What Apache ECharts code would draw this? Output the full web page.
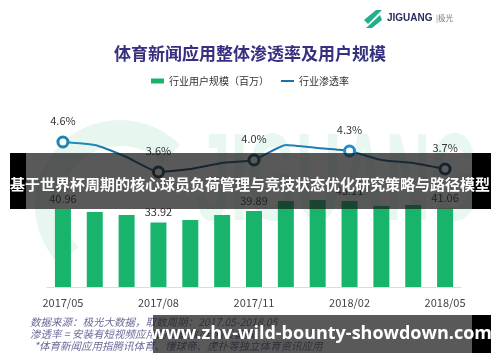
<!DOCTYPE html>
<html><head><meta charset="utf-8">
<script src="https://cdn.jsdelivr.net/npm/echarts@6/dist/echarts.min.js"></script>
<style>html,body{margin:0;padding:0;background:#fff}#c{width:500px;height:362px}</style>
</head><body><div id="c"></div>
<script>
var categories = ['2017/05','2017/06','2017/07','2017/08','2017/09','2017/10','2017/11','2017/12','2018/01','2018/02','2018/03','2018/04','2018/05'];
var userScale = [40.96, 39.4, 37.8, 33.92, 35.2, 37.8, 39.89, 45.1, 45.7, 45.11, 42.5, 43.0, 41.06];
var penetration = [4.6, 4.5, 4.1, 3.6, 3.7, 3.9, 4.0, 4.5, 4.4, 4.3, 4.0, 3.9, 3.7];
var labeledIdx = [0, 3, 6, 9, 12];
var markerColors = {0:'#1b87aa', 3:'#0f3a5e', 6:'#16466f', 9:'#1d8fd0', 12:'#123b60'};
var titleText = '体育新闻应用整体渗透率及用户规模';
var legendBar = '行业用户规模（百万）';
var legendLine = '行业渗透率';
var notes = ['数据来源：极光大数据，取数周期：2017.05-2018.05','渗透率 = 安装有短视频应用的设备数/全网设备数','*体育新闻应用指腾讯体育、懂球帝、虎扑等独立体育资讯应用'];
var bannerText = '基于世界杯周期的核心球员负荷管理与竞技状态优化研究策略与路径模型';
var urlText = 'www.zhv-wild-bounty-showdown.com';

var chart = echarts.init(document.getElementById('c'));
var font = '"Noto Sans CJK SC", "Noto Sans", sans-serif';

var barData = userScale.map(function(v,i){
  return {value:v, label:{show: labeledIdx.indexOf(i)>=0}};
});
var lineData = penetration.map(function(v,i){
  if (labeledIdx.indexOf(i)>=0) {
    return {value:v, symbol:'circle', symbolSize:10,
      itemStyle:{color:'#fff', borderColor:markerColors[i], borderWidth:3},
      label:{show:true}};
  }
  return {value:v, symbol:'none'};
});

var option = {
  backgroundColor:'#fff',
  textStyle:{fontFamily:font},
  title:{text:titleText, left:'center', top:40,
    textStyle:{fontSize:17, fontWeight:'bold', color:'#35307f', fontFamily:font}},
  legend:{top:71, left:'center', itemWidth:13, itemHeight:5, itemGap:12,
    textStyle:{fontSize:10, color:'#333', fontFamily:font},
    data:[{name:legendBar, icon:'rect'},{name:legendLine, icon:'path://M0,0h13v2h-13z', itemStyle:{color:'#1f6fa8'}}]},
  grid:{left:47, right:39, top:137, bottom:75},
  xAxis:{type:'category', data:categories, boundaryGap:true,
    axisLine:{lineStyle:{color:'#dcdcdc'}}, axisTick:{show:false},
    axisLabel:{interval:2, fontSize:11, color:'#444', margin:10, fontFamily:font}},
  yAxis:[
    {type:'value', min:0, max:78.74, show:false, splitLine:{show:false}},
    {type:'value', min:-0.233, max:4.767, show:false, splitLine:{show:false}}
  ],
  series:[
    {name:legendBar, type:'bar', barWidth:16, data:barData, z:2,
      itemStyle:{color:'#19b46c'},
      label:{position:'top', distance:5, fontSize:11, color:'#333', fontFamily:font,
        formatter:function(p){return p.value.toFixed(2);}}},
    {name:legendLine, type:'line', yAxisIndex:1, data:lineData, z:3,
      smooth:0.15, symbol:'none', showSymbol:true,
      lineStyle:{width:2, color:new echarts.graphic.LinearGradient(0,0,0,1,[{offset:0,color:'#2295cc'},{offset:1,color:'#0c2d52'}])},
      itemStyle:{color:'#1f6fa8'},
      label:{position:'top', distance:9, fontSize:11, color:'#333', fontFamily:font,
        formatter:function(p){return p.value.toFixed(1)+'%';}}}
  ],
  graphic:[
    {type:'text', left:196, top:124, z:-1, silent:true, scaleY:2.0,
      style:{text:'JIGUANG', fontSize:62, fontWeight:'bold', fontFamily:'"Liberation Sans", sans-serif', fill:'rgba(40,180,120,0.10)'}},
    {type:'arc', z:-1, silent:true, shape:{cx:120, cy:205, r:72, startAngle:Math.PI*0.75, endAngle:Math.PI*1.75},
      style:{stroke:'rgba(40,180,120,0.11)', lineWidth:26, fill:null}},
    {type:'polygon', shape:{points:[[364,20],[376,10],[382,10],[368,24]]}, style:{fill:'#22b08c'}},
    {type:'polygon', shape:{points:[[366,28],[380,15],[382,20],[372,28]]}, style:{fill:'#22b08c'}},
    {type:'text', left:387, top:13, style:{text:'JIGUANG', fontSize:10, fontWeight:'bold', fill:'#2a2c5e', fontFamily:'"Liberation Sans", sans-serif'}},
    {type:'text', left:436, top:14, style:{text:'|极光', fontSize:7.5, fill:'#777', fontFamily:font}},
    {type:'text', left:30, top:317, style:{text:notes[0], fontSize:10.5, fontStyle:'italic', fill:'#6a6a98', fontFamily:font}},
    {type:'text', left:30, top:329, style:{text:notes[1], fontSize:10.5, fontStyle:'italic', fill:'#6a6a98', fontFamily:font}},
    {type:'text', left:34, top:341, style:{text:notes[2], fontSize:10.5, fontStyle:'italic', fill:'#6a6a98', fontFamily:font}},
    {type:'rect', z:100, shape:{x:26, y:153, width:446, height:56}, style:{fill:'rgba(25,25,25,0.72)'}},
    {type:'rect', z:100, shape:{x:10, y:153, width:16, height:56}, style:{fill:'#000'}},
    {type:'rect', z:100, shape:{x:472, y:153, width:19, height:56}, style:{fill:'#000'}},
    {type:'text', z:101, x:250, y:184, style:{text:bannerText, fontSize:15, fontWeight:'bold', fill:'#fff', align:'center', verticalAlign:'middle', fontFamily:font}},
    {type:'rect', z:100, shape:{x:153, y:315, width:319, height:38}, style:{fill:'rgba(25,25,25,0.72)'}},
    {type:'rect', z:100, shape:{x:472, y:315, width:19, height:38}, style:{fill:'#000'}},
    {type:'text', z:101, x:321, y:334, style:{text:urlText, fontSize:18, fontWeight:'bold', fill:'#fff', align:'center', verticalAlign:'middle', fontFamily:'"Open Sans", "DejaVu Sans", sans-serif'}}
  ]
};
chart.setOption(option);
</script></body></html>
